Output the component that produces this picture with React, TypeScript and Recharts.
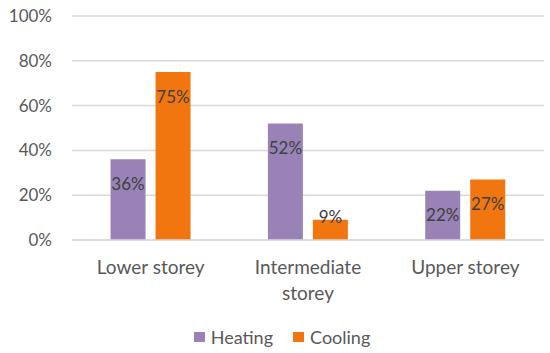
import React from 'react';
import { BarChart, Bar, XAxis, YAxis, CartesianGrid, Legend, LabelList } from 'recharts';

const categories = ['Lower storey', 'Intermediate storey', 'Upper storey'];
const heating = [36, 52, 22];
const cooling = [75, 9, 27];
const yTicks = [0, 20, 40, 60, 80, 100];
const seriesNames = ['Heating', 'Cooling'];
const seriesColors = ['#9983b6', '#f2760f'];

const data = categories.map((name, i) => ({ name, heating: heating[i], cooling: cooling[i] }));

const FONT = 'Lato, "Open Sans", sans-serif';
const AXIS_COLOR = '#595959';

// wrap long labels onto two lines like the Excel original
const CategoryTick = (props: any) => {
  const { x, y, payload } = props;
  const text: string = payload.value;
  const idx = text.indexOf(' ');
  const lines = text.length > 14 && idx > 0 ? [text.slice(0, idx), text.slice(idx + 1)] : [text];
  return (
    <text x={x} y={y + 9} textAnchor="middle" fill={AXIS_COLOR} fontSize={19} fontFamily={FONT}>
      {lines.map((l, i) => (
        <tspan key={i} x={x} dy={i === 0 ? '0.9em' : 26}>
          {l}
        </tspan>
      ))}
    </text>
  );
};

// Excel-style "inside end" label
const InsideEndLabel = (props: any) => {
  const { x, y, width, height, value } = props;
  const cy = height > 30 ? y + 24 : y - 3;
  return (
    <text
      x={x + width / 2}
      y={cy}
      textAnchor="middle"
      dominantBaseline="central"
      fill="#404040"
      fontSize={17}
      fontFamily={FONT}
    >
      {`${value}%`}
    </text>
  );
};

const LegendContent = () => (
  <div style={{ display: 'flex', justifyContent: 'center', alignItems: 'center', fontFamily: FONT, fontSize: 18, color: AXIS_COLOR, paddingLeft: 20, paddingTop: 3 }}>
    {seriesNames.map((n, i) => (
      <span key={n} style={{ display: 'flex', alignItems: 'center', marginRight: i === 0 ? 20 : 0 }}>
        <span style={{ width: 11, height: 10, background: seriesColors[i], display: 'inline-block', marginRight: 6 }} />
        {n}
      </span>
    ))}
  </div>
);

const App: React.FC = () => {
  return (
    <div style={{ position: 'fixed', left: 0, top: 0, width: 550, height: 353, background: '#fff' }}>
      <BarChart
        width={550}
        height={353}
        data={data}
        margin={{ top: 16, right: 6, left: 0, bottom: 0 }}
        barGap={10}
        barCategoryGap="24.5%"
      >
        <CartesianGrid vertical={false} stroke="#d9d9d9" strokeWidth={1.5} />
        <XAxis
          dataKey="name"
          axisLine={{ stroke: '#d9d9d9', strokeWidth: 1.5 }}
          tickLine={false}
          tick={<CategoryTick />}
          interval={0}
          height={83}
        />
        <YAxis
          domain={[0, 100]}
          ticks={yTicks}
          axisLine={false}
          tickLine={false}
          tickMargin={14}
          width={72}
          tickFormatter={(v) => `${v}%`}
          tick={{ fill: AXIS_COLOR, fontSize: 17, fontFamily: FONT }}
        />
        <Legend verticalAlign="bottom" height={30} content={<LegendContent />} />
        <Bar dataKey="heating" name={seriesNames[0]} fill={seriesColors[0]} isAnimationActive={false}>
          <LabelList dataKey="heating" content={<InsideEndLabel />} />
        </Bar>
        <Bar dataKey="cooling" name={seriesNames[1]} fill={seriesColors[1]} isAnimationActive={false}>
          <LabelList dataKey="cooling" content={<InsideEndLabel />} />
        </Bar>
      </BarChart>
    </div>
  );
};

export default App;
